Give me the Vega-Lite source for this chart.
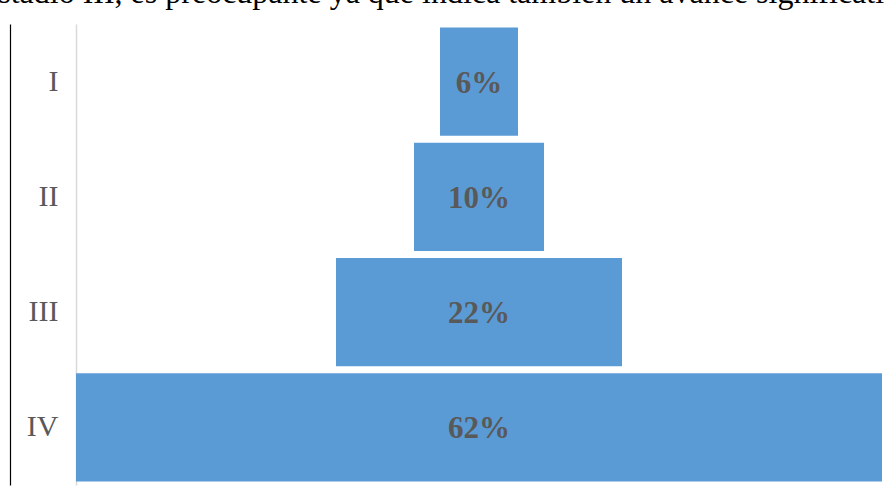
{
  "$schema": "https://vega.github.io/schema/vega-lite/v6.json",
  "autosize": {"type": "none"},
  "padding": {"left": 76, "top": 24, "right": 5, "bottom": 10},
  "width": 806,
  "height": 461,
  "background": "#ffffff",
  "config": {"view": {"stroke": null}},
  "title": {
    "text": "estadio III, es preocupante ya que indica también un avance significativo",
    "orient": "top",
    "anchor": "start",
    "frame": "group",
    "dx": -92,
    "dy": 20,
    "offset": 9,
    "baseline": "alphabetic",
    "font": "Liberation Serif",
    "fontSize": 32,
    "fontWeight": "normal",
    "color": "#000000"
  },
  "data": {
    "values": [
      {"stage": "I", "pct": 6, "label": "6%"},
      {"stage": "II", "pct": 10, "label": "10%"},
      {"stage": "III", "pct": 22, "label": "22%"},
      {"stage": "IV", "pct": 62, "label": "62%"}
    ]
  },
  "resolve": {"axis": {"y": "independent"}},
  "layer": [
    {
      "mark": {"type": "bar", "color": "#5B9BD5"},
      "encoding": {
        "y": {
          "field": "stage",
          "type": "nominal",
          "sort": ["I", "II", "III", "IV"],
          "scale": {"paddingInner": 0.06, "paddingOuter": 0.03},
          "axis": {
            "title": null,
            "ticks": false,
            "grid": false,
            "domainColor": "#d9d9d9",
            "domainWidth": 1.5,
            "labelFont": "Liberation Serif",
            "labelFontSize": 30,
            "labelColor": "#595959",
            "labelPadding": 18
          }
        },
        "x": {
          "field": "pct",
          "type": "quantitative",
          "stack": "center",
          "scale": {"domain": [0, 62], "nice": false, "zero": false},
          "axis": null
        }
      }
    },
    {
      "mark": {
        "type": "text",
        "font": "Liberation Serif",
        "fontSize": 31,
        "fontWeight": "bold",
        "color": "#595959",
        "baseline": "middle",
        "align": "center",
        "dy": 2
      },
      "encoding": {
        "y": {
          "field": "stage",
          "type": "nominal",
          "sort": ["I", "II", "III", "IV"],
          "axis": {
            "orient": "left",
            "offset": 66,
            "title": null,
            "ticks": false,
            "labels": false,
            "grid": false,
            "domainColor": "#000000",
            "domainWidth": 1.2
          }
        },
        "x": {"datum": 31, "type": "quantitative"},
        "text": {"field": "label"}
      }
    }
  ]
}
